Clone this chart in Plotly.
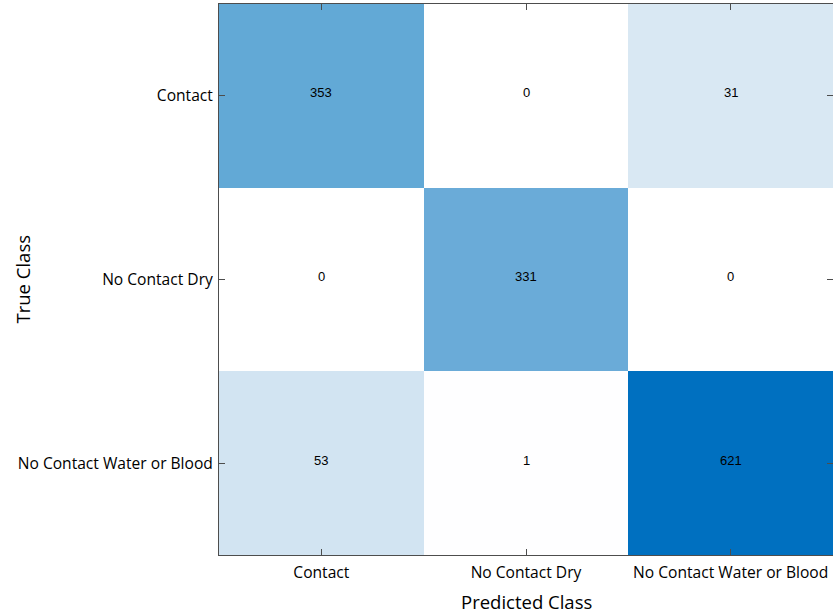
import plotly.graph_objects as go

# Confusion matrix: rows are true classes, columns are predicted classes
classes = ["Contact", "No Contact Dry", "No Contact Water or Blood"]
counts = [
    [353, 0, 31],
    [0, 331, 0],
    [53, 1, 621],
]

# Cell shading: white for zero counts up to solid blue for the largest count
zmax = 621
colorscale = [
    [0.0, "#ffffff"],
    [1 / zmax, "#fefeff"],
    [31 / zmax, "#d9e8f3"],
    [53 / zmax, "#d2e4f2"],
    [331 / zmax, "#6aabd8"],
    [353 / zmax, "#62a9d6"],
    [1.0, "#0070c0"],
]

label_font = "Open Sans, Noto Sans, sans-serif"

fig = go.Figure(
    go.Heatmap(
        z=counts,
        x=classes,
        y=classes,
        zmin=0,
        zmax=zmax,
        colorscale=colorscale,
        showscale=False,
        hoverinfo="skip",
    )
)

# Count labels in each cell, nudged slightly above the cell centre
for i, true_cls in enumerate(classes):
    for j, pred_cls in enumerate(classes):
        fig.add_annotation(
            x=pred_cls, y=true_cls, text=str(counts[i][j]), showarrow=False,
            yshift=3, font=dict(family="Liberation Sans, Arial, sans-serif", size=13, color="#000000"),
        )

axis_common = dict(
    showline=True,
    linecolor="#4d4d4d",
    linewidth=1,
    mirror="ticks",
    ticks="inside",
    ticklen=6,
    tickcolor="#4d4d4d",
    tickwidth=1,
    showgrid=False,
    zeroline=False,
    tickfont=dict(family=label_font, size=15.6, color="#000000"),
)

fig.update_xaxes(**axis_common, ticklabelstandoff=3)
fig.update_yaxes(**axis_common, autorange="reversed", ticklabelstandoff=2)

# Axis titles placed in paper coordinates around the plot area
title_font = dict(family=label_font, size=18.5, color="#000000")
fig.add_annotation(
    text="Predicted Class", xref="paper", yref="paper", x=0.5, y=0,
    xanchor="center", yanchor="middle", yshift=-46, showarrow=False, font=title_font,
)
fig.add_annotation(
    text="True Class", xref="paper", yref="paper", x=0, y=0.5,
    xanchor="center", yanchor="middle", xshift=-197, textangle=-90,
    showarrow=False, font=title_font,
)

fig.update_layout(
    width=833,
    height=613,
    margin=dict(l=219, r=0, t=4, b=58),
    paper_bgcolor="#ffffff",
    plot_bgcolor="#ffffff",
)

fig.write_html("out.html")
